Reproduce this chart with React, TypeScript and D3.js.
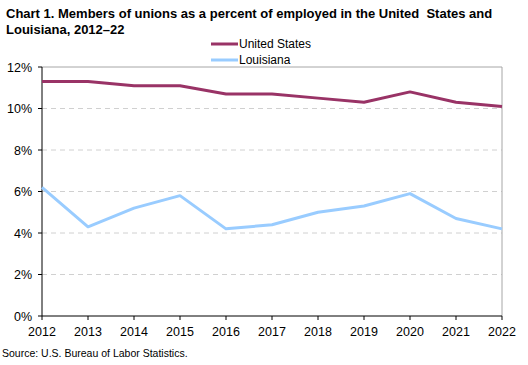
import React from "react";
import * as d3 from "d3";

const years = [2012, 2013, 2014, 2015, 2016, 2017, 2018, 2019, 2020, 2021, 2022];
const unitedStates = [11.3, 11.3, 11.1, 11.1, 10.7, 10.7, 10.5, 10.3, 10.8, 10.3, 10.1];
const louisiana = [6.2, 4.3, 5.2, 5.8, 4.2, 4.4, 5.0, 5.3, 5.9, 4.7, 4.2];
const yTicks = [0, 2, 4, 6, 8, 10, 12];
const seriesNames = ["United States", "Louisiana"];
const seriesColors = ["#993366", "#99CCFF"];

const W = 528, H = 365;
const left = 42, right = 502, top = 67, bottom = 316;
const font = "'Liberation Sans', Arial, sans-serif";

export default function App() {
  const x = d3.scaleLinear().domain([2012, 2022]).range([left, right]);
  const y = d3.scaleLinear().domain([0, 12]).range([bottom, top]);
  const line = d3.line<number>().x((_, i) => x(years[i])).y((d) => y(d));
  const series = [unitedStates, louisiana];
  return (
    <svg width={W} height={H} style={{ position: "absolute", left: 0, top: 0, background: "#fff" }} fontFamily={font}>
      <text x={6} y={18} fontSize={13} fontWeight="bold" fill="#000" style={{ whiteSpace: "pre" }}>
        {"Chart 1. Members of unions as a percent of employed in the United  States and"}
      </text>
      <text x={6} y={34} fontSize={13} fontWeight="bold" fill="#000">Louisiana, 2012–22</text>
      {seriesNames.map((n, i) => (
        <g key={n}>
          <line x1={211} x2={238} y1={44 + i * 16} y2={44 + i * 16} stroke={seriesColors[i]} strokeWidth={3} />
          <text x={239} y={48 + i * 16} fontSize={12} fill="#000">{n}</text>
        </g>
      ))}
      {yTicks.filter((t) => t > 0 && t < 12).map((t) => (
        <line key={t} x1={left} x2={right} y1={y(t)} y2={y(t)} stroke="#d0d0d0" strokeDasharray="5,4" />
      ))}
      <line x1={left} x2={right} y1={top} y2={top} stroke="#a6a6a6" />
      <line x1={right} x2={right} y1={top} y2={bottom} stroke="#a6a6a6" />
      {yTicks.map((t) => (
        <g key={t}>
          <line x1={left - 4} x2={left} y1={y(t)} y2={y(t)} stroke="#000" />
          <text x={32} y={y(t) + 4.5} fontSize={12.5} textAnchor="end" fill="#000">{t}%</text>
        </g>
      ))}
      {years.map((yr) => (
        <g key={yr}>
          <line x1={x(yr)} x2={x(yr)} y1={bottom} y2={bottom + 4} stroke="#000" />
          <text x={x(yr)} y={bottom + 20} fontSize={12.5} textAnchor="middle" fill="#000">{yr}</text>
        </g>
      ))}
      <line x1={left} x2={left} y1={top} y2={bottom} stroke="#000" />
      <line x1={left} x2={right} y1={bottom} y2={bottom} stroke="#000" />
      {series.map((s, i) => (
        <path key={i} d={line(s) || ""} fill="none" stroke={seriesColors[i]} strokeWidth={3} strokeLinejoin="round" />
      ))}
      <text x={2} y={357} fontSize={10.5} fill="#000">Source: U.S. Bureau of Labor Statistics.</text>
    </svg>
  );
}
